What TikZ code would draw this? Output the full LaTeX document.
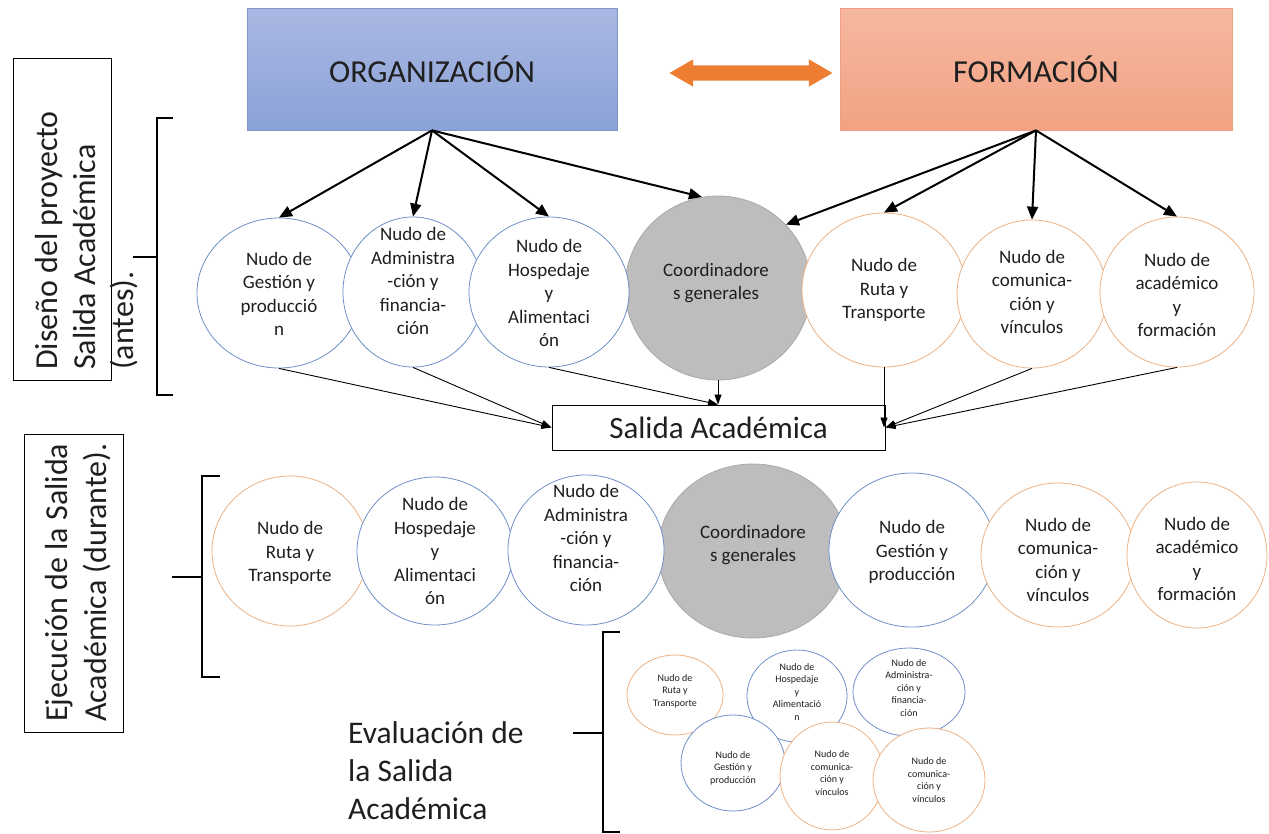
\documentclass[tikz,border=0pt]{standalone}
\usepackage{fontspec}
\setmainfont{Carlito}
\usetikzlibrary{shapes.geometric,shapes.arrows,arrows.meta}
\definecolor{blueline}{HTML}{6F8FC8}
\definecolor{orangeline}{HTML}{EDB183}
\definecolor{grayfill}{HTML}{BDBDBD}
\definecolor{grayline}{HTML}{A9A9A9}
\definecolor{orgtop}{HTML}{AAB8E2}
\definecolor{orgbot}{HTML}{8AA2D7}
\definecolor{orgborder}{HTML}{8095C8}
\definecolor{formtop}{HTML}{F6B8A0}
\definecolor{formbot}{HTML}{F2A283}
\definecolor{formborder}{HTML}{EFA080}
\definecolor{arroworange}{HTML}{ED7D31}
\definecolor{txtc}{HTML}{1F1F1F}
\begin{document}
\begin{tikzpicture}[x=1pt,y=-1pt,
  circb/.style={ellipse, draw=blueline, line width=0.8pt, fill=white, inner sep=0pt},
  circo/.style={ellipse, draw=orangeline, line width=0.8pt, fill=white, inner sep=0pt},
  circg/.style={ellipse, draw=grayline, line width=0.8pt, fill=grayfill, inner sep=0pt},
  txt/.style={align=center, inner sep=0pt, text=txtc, font=\fontsize{19}{23.5}\selectfont},
  stxt/.style={align=center, inner sep=0pt, text=txtc, font=\fontsize{10}{12.5}\selectfont},
  bigarr/.style={-{Triangle[length=13pt,width=11pt]}, line width=2pt},
  thinarr/.style={-{Triangle[length=10pt,width=7pt]}, line width=0.9pt},
  brack/.style={line width=1.8pt},
  headbox/.style={minimum width=370pt, minimum height=122pt, line width=0.8pt, text=txtc, font=\fontsize{32}{38}\selectfont}
]
\useasboundingbox (0,0) rectangle (1269,833);

% header boxes
\node[headbox, draw=orgborder, top color=orgtop, bottom color=orgbot] (org) at (432,69) {ORGANIZACIÓN};
\node[headbox, minimum width=392pt, draw=formborder, top color=formtop, bottom color=formbot] (form) at (1036,69) {FORMACIÓN};
\node[double arrow, fill=arroworange, minimum height=163pt, inner xsep=0pt, inner ysep=7.5pt,
      double arrow head extend=6pt, double arrow tip angle=60] (dbl) at (751,73) {};

% left labels
\node[draw, line width=1pt, minimum width=98pt, minimum height=322pt] (dbox) at (62,219) {};
\node[rotate=90, anchor=north west, align=left, inner sep=0pt, text=txtc, font=\fontsize{32}{38}\selectfont] (dtxt) at (35,370) {Diseño del proyecto\\Salida Académica\\(antes).};
\node[draw, line width=1pt, minimum width=99pt, minimum height=298pt] (ebox) at (73.5,583) {};
\node[rotate=90, anchor=north west, align=left, inner sep=0pt, text=txtc, font=\fontsize{32}{39}\selectfont] (etxt) at (45,722) {Ejecución de la Salida\\Académica (durante).};
\node[anchor=north west, align=left, inner sep=0pt, text=txtc, font=\fontsize{31.5}{38}\selectfont] (ev) at (348,721) {Evaluación de\\la Salida\\Académica};

% brackets
\draw[brack] (173,118) -- (157,118) -- (157,395) -- (173,395);
\draw[brack] (133,257) -- (157,257);
\draw[brack] (220,476) -- (202,476) -- (202,677) -- (220,677);
\draw[brack] (172,577) -- (202,577);
\draw[brack] (620,632) -- (603,632) -- (603,832) -- (620,832);
\draw[brack] (573,733) -- (603,733);

% row 1 circles
\node[circg, minimum width=186pt, minimum height=184pt] (g1) at (718,288) {};
\node[circb, minimum width=164pt, minimum height=150pt] (c1) at (279,293) {};
\node[circb, minimum width=140pt, minimum height=150pt] (c2) at (413,292) {};
\node[circb, minimum width=160pt, minimum height=150pt] (c3) at (549,292) {};
\node[circo, minimum width=164pt, minimum height=154pt] (c5) at (884,290) {};
\node[circo, minimum width=150pt, minimum height=148pt] (c6) at (1032,294) {};
\node[circo, minimum width=154pt, minimum height=150pt] (c7) at (1177,292) {};
\node[txt] (c1t) at (279,294) {Nudo de\\Gestión y\\producció\\n};
\node[txt] (c2t) at (413,281) {Nudo de\\Administra\\-ción y\\financia-\\ción};
\node[txt] (c3t) at (549,293) {Nudo de\\Hospedaje\\y\\Alimentaci\\ón};
\node[txt] (g1t) at (716,283) {Coordinadore\\s generales};
\node[txt] (c5t) at (884,290) {Nudo de\\Ruta y\\Transporte};
\node[txt] (c6t) at (1032,292) {Nudo de\\comunica-\\ción y\\vínculos};
\node[txt] (c7t) at (1177,295) {Nudo de\\académico\\y\\formación};

% Salida box
\node[draw, line width=1pt, minimum width=333pt, minimum height=45pt, text=txtc, font=\fontsize{31}{36}\selectfont] (sal) at (718.5,427.5) {Salida Académica};

% arrows top
\draw[bigarr] (org.south) -- (c1.north);
\draw[bigarr] (org.south) -- (c2.north);
\draw[bigarr] (org.south) -- (c3.north);
\draw[bigarr] (org.south) -- (g1.100);
\draw[bigarr] (form.south) -- (g1.43);
\draw[bigarr] (form.south) -- (c5.north);
\draw[bigarr] (form.south) -- (c6.north);
\draw[bigarr] (form.south) -- (c7.north);

% arrows to Salida
\draw[thinarr] (c1.south) -- (sal.west);
\draw[thinarr] (c2.south) -- (sal.west);
\draw[thinarr] (c3.south) -- (g1.south |- sal.north);
\draw[thinarr] (g1.south) -- (g1.south |- sal.north);
\draw[thinarr] (c5.south) -- (c5.south |- sal.east);
\draw[thinarr] (c6.south) -- (sal.east);
\draw[thinarr] (c7.south) -- (sal.east);

% row 2 circles
\node[circg, minimum width=190pt, minimum height=174pt] (g2) at (753,551) {};
\node[circo, minimum width=156pt, minimum height=150pt] (d1) at (290,551) {};
\node[circb, minimum width=156pt, minimum height=148pt] (d2) at (435,551) {};
\node[circb, minimum width=156pt, minimum height=150pt] (d3) at (586,550) {};
\node[circb, minimum width=166pt, minimum height=154pt] (d5) at (912,550) {};
\node[circo, minimum width=154pt, minimum height=144pt] (d6) at (1058,555) {};
\node[circo, minimum width=140pt, minimum height=146pt] (d7) at (1197,555) {};
\node[txt] (d1t) at (290,553) {Nudo de\\Ruta y\\Transporte};
\node[txt] (d2t) at (435,551) {Nudo de\\Hospedaje\\y\\Alimentaci\\ón};
\node[txt] (d3t) at (586,538) {Nudo de\\Administra\\-ción y\\financia-\\ción};
\node[txt] (g2t) at (753,545) {Coordinadore\\s generales};
\node[txt] (d5t) at (912,552) {Nudo de\\Gestión y\\producción};
\node[txt] (d6t) at (1058,560) {Nudo de\\comunica-\\ción y\\vínculos};
\node[txt] (d7t) at (1197,559) {Nudo de\\académico\\y\\formación};

% row 3 small circles
\node[circo, minimum width=96pt, minimum height=80pt] (e1) at (675,695) {};
\node[circb, minimum width=100pt, minimum height=92pt] (e2) at (797,696) {};
\node[circb, minimum width=112pt, minimum height=88pt] (e3) at (909,692) {};
\node[circb, minimum width=104pt, minimum height=96pt] (e4) at (733,763) {};
\node[circo, minimum width=104pt, minimum height=108pt] (e5) at (832,776) {};
\node[circo, minimum width=112pt, minimum height=104pt] (e6) at (929,780) {};
\node[stxt] (e1t) at (675,691) {Nudo de\\Ruta y\\Transporte};
\node[stxt] (e2t) at (797,692) {Nudo de\\Hospedaje\\y\\Alimentació\\n};
\node[stxt] (e3t) at (909,688) {Nudo de\\Administra-\\ción y\\financia-\\ción};
\node[stxt] (e4t) at (733,768) {Nudo de\\Gestión y\\producción};
\node[stxt] (e5t) at (832,773) {Nudo de\\comunica-\\ción y\\vínculos};
\node[stxt] (e6t) at (929,780) {Nudo de\\comunica-\\ción y\\vínculos};
\end{tikzpicture}
\end{document}
